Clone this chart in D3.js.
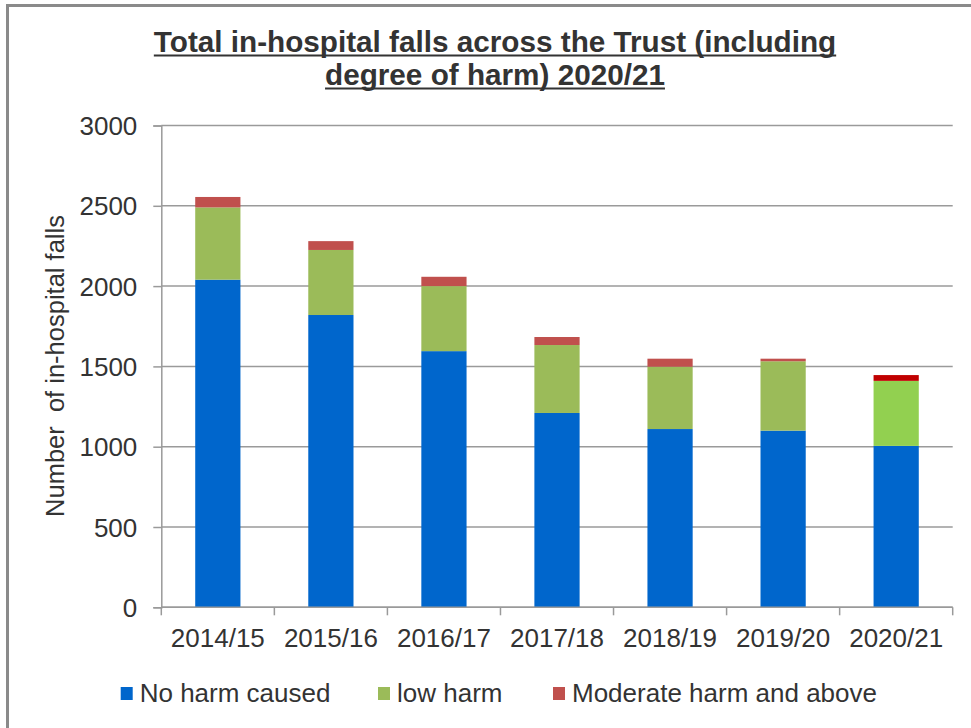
<!DOCTYPE html>
<html>
<head>
<meta charset="utf-8">
<script src="https://cdn.jsdelivr.net/npm/d3@7/dist/d3.min.js"></script>
<style>
  html, body { margin: 0; padding: 0; background: #fff; }
  svg { display: block; }
</style>
</head>
<body>
<svg id="chart" width="971" height="728"></svg>
<script>
// ---- data ----
const categories = ["2014/15", "2015/16", "2016/17", "2017/18", "2018/19", "2019/20", "2020/21"];
const noHarm = [2040, 1820, 1595, 1210, 1110, 1100, 1005];
const lowHarm = [450, 405, 405, 423, 388, 432, 405];
const moderateHarm = [65, 55, 58, 50, 50, 16, 36];
const seriesNames = ["No harm caused", "low harm", "Moderate harm and above"];
const yTicks = [0, 500, 1000, 1500, 2000, 2500, 3000];
const titleLines = ["Total in-hospital falls across the Trust (including", "degree of harm) 2020/21"];
const yLabel = "Number  of in-hospital falls";

// ---- styles ----
const seriesColors = ["#0066CC", "#9BBB59", "#C0504D"];
const highlightColors = ["#0066CC", "#92D050", "#C00000"]; // last year
const textColor = "#333333";
const gridColor = "#9a9a9a";
const font = "'Liberation Sans', Arial, sans-serif";

const svg = d3.select("#chart");

// outer frame (only top & left visible)
svg.append("rect")
  .attr("x", 7.5).attr("y", 5.5).attr("width", 2000).attr("height", 2000)
  .attr("fill", "none").attr("stroke", "#8a8a8a").attr("stroke-width", 3);

const plot = { left: 161.3, right: 952.7, top: 125.5, bottom: 607.3 };

const x = d3.scaleBand().domain(categories)
  .range([plot.left, plot.right]).paddingInner(0.6).paddingOuter(0.3);
const xb = d3.scaleLinear().domain([0, categories.length]).range([plot.left, plot.right]);
const y = d3.scaleLinear().domain([0, 3000]).range([plot.bottom, plot.top]);

// gridlines
svg.append("g").selectAll("line").data(yTicks).join("line")
  .attr("x1", plot.left).attr("x2", plot.right)
  .attr("y1", d => y(d)).attr("y2", d => y(d))
  .attr("stroke", gridColor).attr("stroke-width", 1.5);

// stacked bars
const rows = categories.map((c, i) => ({ cat: c, v: [noHarm[i], lowHarm[i], moderateHarm[i]] }));
const stack = d3.stack().keys([0, 1, 2]).value((d, k) => d.v[k]);
const layers = stack(rows);
layers.forEach((layer, k) => {
  svg.append("g").selectAll("rect").data(layer).join("rect")
    .attr("x", d => x(d.data.cat))
    .attr("width", x.bandwidth())
    .attr("y", d => y(d[1]))
    .attr("height", d => y(d[0]) - y(d[1]))
    .attr("fill", (d, i) => i === categories.length - 1 ? highlightColors[k] : seriesColors[k]);
});

// y axis
const yAxis = svg.append("g").attr("transform", `translate(${plot.left},0)`)
  .call(d3.axisLeft(y).tickValues(yTicks).tickSize(8).tickPadding(16).tickFormat(d3.format("d")));
yAxis.select(".domain").attr("stroke", gridColor).attr("stroke-width", 1.5);
yAxis.selectAll(".tick line").attr("stroke", gridColor).attr("stroke-width", 1.5);
yAxis.selectAll(".tick text").attr("font-family", font).attr("font-size", 26)
  .attr("fill", textColor).attr("dy", "0.35em");

// x axis
const xg = svg.append("g");
xg.append("line").attr("x1", plot.left).attr("x2", plot.right)
  .attr("y1", plot.bottom).attr("y2", plot.bottom)
  .attr("stroke", gridColor).attr("stroke-width", 1.5);
xg.selectAll("line.t").data(d3.range(categories.length + 1)).join("line")
  .attr("class", "t")
  .attr("x1", d => xb(d)).attr("x2", d => xb(d))
  .attr("y1", plot.bottom).attr("y2", plot.bottom + 8)
  .attr("stroke", gridColor).attr("stroke-width", 1.5);
xg.selectAll("text").data(categories).join("text")
  .attr("x", d => x(d) + x.bandwidth() / 2)
  .attr("y", 647)
  .attr("text-anchor", "middle")
  .attr("font-family", font).attr("font-size", 26).attr("fill", textColor)
  .text(d => d);

// y label
svg.append("text")
  .attr("transform", "translate(64,366) rotate(-90)")
  .attr("text-anchor", "middle")
  .attr("font-family", font).attr("font-size", 25.5).attr("fill", textColor)
  .attr("xml:space", "preserve").style("white-space", "pre")
  .text(yLabel);

// title
const titleBaselines = [52, 85];
titleLines.forEach((t, i) => {
  const tx = svg.append("text")
    .attr("x", 495).attr("y", titleBaselines[i])
    .attr("text-anchor", "middle")
    .attr("font-family", "'Liberation Sans Narrow', 'Arial Narrow', sans-serif")
    .attr("font-weight", "bold").attr("font-size", 29.7).attr("fill", textColor)
    .text(t);
  const w = tx.node().getComputedTextLength();
  svg.append("line")
    .attr("x1", 495 - w / 2).attr("x2", 495 + w / 2)
    .attr("y1", titleBaselines[i] + 3.5).attr("y2", titleBaselines[i] + 3.5)
    .attr("stroke", textColor).attr("stroke-width", 2);
});

// legend
const legendX = [120.7, 378, 553];
const lg = svg.append("g");
seriesNames.forEach((name, k) => {
  lg.append("rect").attr("x", legendX[k]).attr("y", 687).attr("width", 12).attr("height", 13)
    .attr("fill", seriesColors[k]);
  lg.append("text").attr("x", legendX[k] + 19).attr("y", 702)
    .attr("font-family", font).attr("font-size", 26).attr("fill", textColor)
    .text(name);
});
</script>
</body>
</html>
